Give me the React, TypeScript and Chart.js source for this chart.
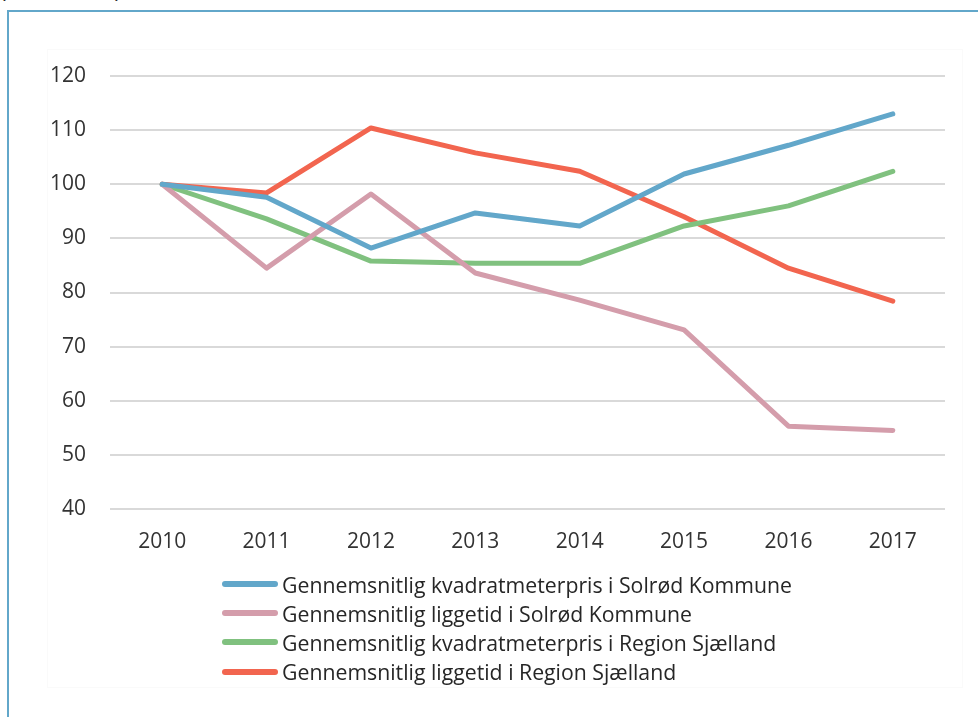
import React, { useEffect, useRef } from "react";
import { Chart, registerables } from "chart.js";

Chart.register(...registerables);

const years = ["2010", "2011", "2012", "2013", "2014", "2015", "2016", "2017"];
const kvmSolrod = [100, 97.6, 88.2, 94.7, 92.3, 101.9, 107.2, 113.0];
const liggetidSolrod = [100, 84.5, 98.2, 83.6, 78.6, 73.1, 55.3, 54.5];
const kvmRegion = [100, 93.6, 85.8, 85.4, 85.4, 92.3, 96.0, 102.4];
const liggetidRegion = [100, 98.4, 110.4, 105.8, 102.4, 94.0, 84.5, 78.4];

const seriesNames = [
  "Gennemsnitlig kvadratmeterpris i Solrød Kommune",
  "Gennemsnitlig liggetid i Solrød Kommune",
  "Gennemsnitlig kvadratmeterpris i Region Sjælland",
  "Gennemsnitlig liggetid i Region Sjælland",
];
const seriesColors = ["#62a7ca", "#d49dab", "#80c17f", "#f2654f"];
const seriesData = [kvmSolrod, liggetidSolrod, kvmRegion, liggetidRegion];

const FONT = "'Open Sans', 'Noto Sans', sans-serif";

export default function App() {
  const canvasRef = useRef<HTMLCanvasElement | null>(null);

  useEffect(() => {
    const canvas = canvasRef.current;
    if (!canvas) return;
    const chart = new Chart(canvas, {
      type: "line",
      data: {
        labels: years,
        datasets: seriesNames.map((name, i) => ({
          label: name,
          data: seriesData[i],
          borderColor: seriesColors[i],
          backgroundColor: seriesColors[i],
          borderWidth: 5,
          pointRadius: 0,
          tension: 0,
          borderCapStyle: "round" as const,
          borderJoinStyle: "round" as const,
        })),
      },
      options: {
        responsive: false,
        animation: false,
        layout: { padding: { left: 20, right: 33, top: 76, bottom: 148 } },
        plugins: { legend: { display: false }, tooltip: { enabled: false } },
        scales: {
          x: {
            offset: true,
            grid: { display: false, drawTicks: false },
            border: { display: false },
            ticks: {
              color: "#333333",
              font: { family: FONT, size: 21 },
              padding: 20,
              maxRotation: 0,
            },
            afterFit: (s: any) => {
              s.height = 60;
            },
          },
          y: {
            min: 40,
            max: 120,
            grid: { color: "#d9d9d9", lineWidth: 2, drawTicks: false },
            border: { display: false },
            ticks: {
              stepSize: 10,
              color: "#333333",
              font: { family: FONT, size: 21 },
              padding: 24,
            },
            afterFit: (s: any) => {
              s.width = 90;
            },
          },
        },
      },
    });
    return () => chart.destroy();
  }, []);

  return (
    <div style={{ position: "fixed", inset: 0, overflow: "hidden", background: "#fff" }}>
      <div
        style={{
          position: "absolute",
          left: 0,
          top: -25,
          fontFamily: FONT,
          fontSize: 21.25,
          color: "#262626",
          whiteSpace: "nowrap",
          lineHeight: "normal",
        }}
      >
        (2010 = 100)
      </div>
      <div
        style={{
          position: "absolute",
          left: 7,
          top: 10,
          width: 1100,
          height: 900,
          borderLeft: "2px solid #62a7ca",
          borderTop: "2px solid #62a7ca",
        }}
      />
      <div
        style={{
          position: "absolute",
          left: 47,
          top: 49,
          width: 914,
          height: 637,
          border: "1px solid #fafafa",
        }}
      />
      <canvas
        ref={canvasRef}
        width={978}
        height={717}
        style={{ position: "absolute", left: 0, top: 0, width: 978, height: 717 }}
      />
      <div style={{ position: "absolute", left: 222, top: 569.5 }}>
        {seriesNames.map((name, i) => (
          <div
            key={name}
            style={{ display: "flex", alignItems: "center", height: 29.2 }}
          >
            <div
              style={{
                width: 56,
                height: 6,
                borderRadius: 3,
                background: seriesColors[i],
                marginRight: 4,
                flexShrink: 0,
              }}
            />
            <span
              style={{
                fontFamily: FONT,
                fontSize: 21.25,
                color: "#262626",
                whiteSpace: "nowrap",
                lineHeight: "29px",
              }}
            >
              {name}
            </span>
          </div>
        ))}
      </div>
    </div>
  );
}
